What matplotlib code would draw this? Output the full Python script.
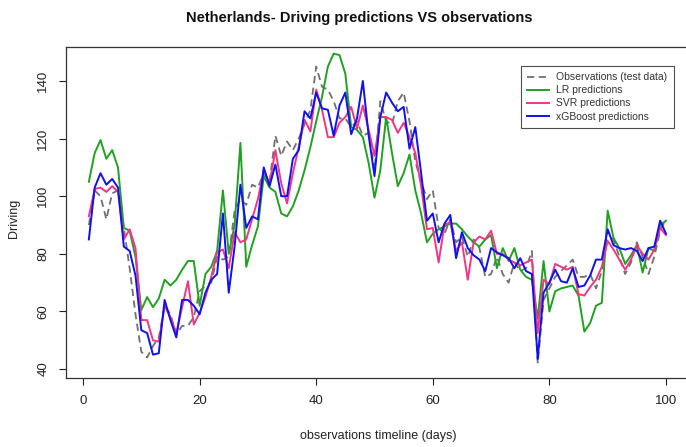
import matplotlib
matplotlib.use("Agg")
import matplotlib.pyplot as plt
import numpy as np

plt.rcParams['font.family'] = ['Liberation Sans', 'DejaVu Sans']

days = list(range(1, 101))

observations = [90,102,100,92,101,102,89,75,59,46,
                44,48,51,62,59,52,55,55,58,67,
                69,70,79,78,79,95,99,97,104,103,
                108,105,121,114,119,116,120,125,130,145,
                138,137,133,127,127,124,126,121,122,109,
                133,126,125,133,136,126,112,105,99,102,
                89,87,92,84,86,79,85,82,72,73,
                79,73,70,77,74,75,81,42,64,68,
                72,74,76,78,72,72,73,68,74,88,
                85,79,73,77,84,79,73,79,88,92]

lr_pred = [105,115,119.5,113,116,110,89,88,79,60.5,
           65,61.5,64.5,71,69,71,74.5,77.5,77.5,62,
           73,75.5,81,102,80,90,118.5,75.5,83,89.5,
           107,103,101.5,94,93,96.5,102,109,117,126,
           134.5,145,149.5,149,142.5,124,123,120.5,111.5,99.5,
           109,127.5,115,103.5,108,114.5,102,94,84,87,
           88.5,89.5,90.5,90.5,88.5,86,84,82.5,85,86.5,
           75,82,77.5,82,74.5,72,71,57.5,77.5,60,
           67,68,68.5,69,65.5,53,56,62,63,95,
           85.5,82,76.5,79.5,83,73.5,82,81,90,91.5]

svr_pred = [93,102.5,103,101.5,103.5,101.5,85,88.5,82,57,
            57,50,49.5,62,58,52.5,61.5,70.5,55.5,59.5,
            65,72,80.5,81.5,75,87.5,84,85,92,99,
            109,104.5,116,104.5,97.5,108,117,126.5,122.5,137,
            130,120.5,120.5,125.5,127.5,131,123.5,131.5,123,114,
            127.5,127.5,126.5,122,125.5,120.5,115,103.5,88.5,89,
            77,90,91,81,84,71,84,86,85,88,
            80,80,78,77,76,77,78,52.5,71,69.5,
            76.5,75.5,74.5,75.5,66,65.5,68.5,71,75.5,84.5,
            81.5,78,74.5,78,83,80,78,81.5,89,86.5]

xgb_pred = [85,103,108,104,106,103,82.5,81,72.5,53.5,
            52.5,45,45.5,64,57,51,64,64,62,59,
            66.5,71,73,94,66.5,82.5,104,89,93,92,
            110,103.5,111,100,100,113,116,129.5,127,136,
            130.5,130,121,131.5,136,121.5,127,140,121,107,
            127.5,136,132.5,129.5,131,116.5,124,108,91.5,94,
            84,90.5,93.5,78.5,87.5,82,79.5,78,74,82,
            80.5,79.5,78.5,75,78.5,74,73,43.5,66.5,70,
            74.5,70.5,70,75,68.5,69,72.5,78,78,88.5,
            83,82,81.5,82,81,77.5,82,82.5,91.5,87]

series_labels = ["Observations (test data)", "LR predictions",
                 "SVR predictions", "xGBoost predictions"]
x_ticks = [0, 20, 40, 60, 80, 100]
y_ticks = [40, 60, 80, 100, 120, 140]

W, H = 686, 447
fig = plt.figure(figsize=(W/100, H/100), dpi=100)
left, right, top, bottom = 66, 689, 47, 378
ax = fig.add_axes([left/W, 1-bottom/H, (right-left)/W, (bottom-top)/H])

lw = 1.4
ax.plot(days, observations, color='#707070', lw=1.3, linestyle=(0, (4, 2.5)),
        label=series_labels[0])
ax.plot(days, lr_pred, color='#22a022', lw=lw, label=series_labels[1])
ax.plot(days, svr_pred, color='#f43585', lw=lw, label=series_labels[2])
ax.plot(days, xgb_pred, color='#1010f0', lw=lw, label=series_labels[3])

ax.set_xlim(-2.92, 103.95)
ax.set_ylim(36.9, 151.8)
ax.set_xticks(x_ticks)
ax.set_yticks(y_ticks)
ax.set_yticklabels([str(v) for v in y_ticks], rotation=90, va='center')
ax.tick_params(direction='out', length=5, width=0.8, labelsize=9.5, colors='#222222')
ax.tick_params(axis='x', pad=7)
ax.tick_params(axis='y', pad=7)
for s in ax.spines.values():
    s.set_linewidth(0.9)
    s.set_color('#333333')

fig.text(0.524, 1-18/H, "Netherlands- Driving predictions VS observations",
         ha='center', va='center', fontsize=10.5, fontweight='bold', color='#111111')
fig.text(378/W, 1-436/H, "observations timeline (days)", ha='center', va='center',
         fontsize=9, color='#222222')
fig.text(14/W, 1-218/H, "Driving", ha='center', va='center', rotation=90,
         fontsize=9, color='#222222')

leg = ax.legend(loc='upper left', bbox_to_anchor=(521/W, 1-66/H),
                bbox_transform=fig.transFigure, borderaxespad=0,
                fontsize=7.5, frameon=True, fancybox=False, handlelength=2.1,
                handletextpad=0.7, labelspacing=0.3, borderpad=0.6)
leg.get_frame().set_edgecolor('#222222')
leg.get_frame().set_linewidth(0.8)
for t in leg.get_texts():
    t.set_color('#333333')

fig.savefig("out.png", dpi=100)
